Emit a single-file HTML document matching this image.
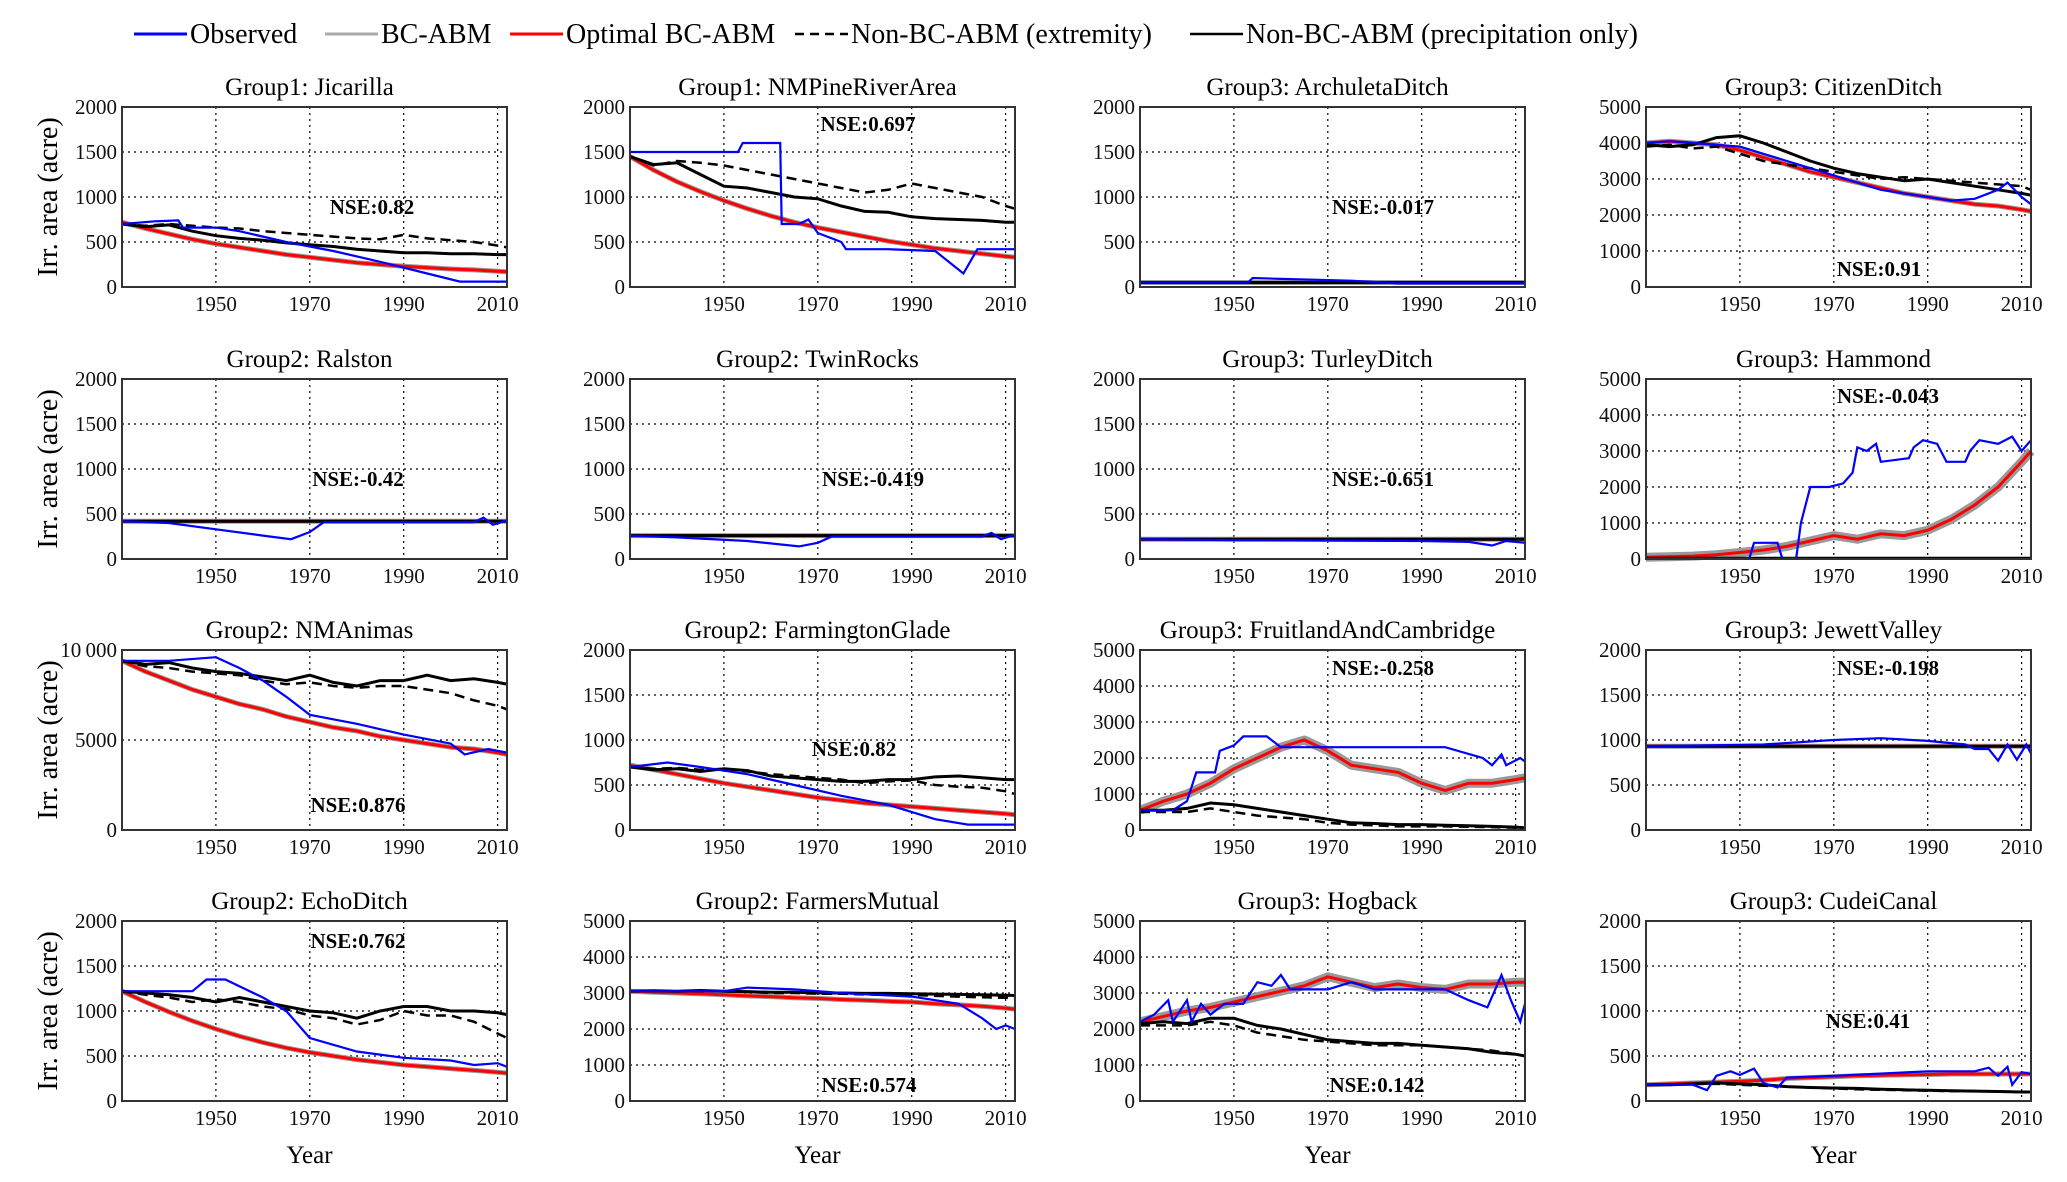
<!DOCTYPE html>
<html><head><meta charset="utf-8"><style>
html,body{margin:0;padding:0;background:#fff;}
svg{display:block;font-family:"Liberation Serif",serif;}
</style></head><body>
<svg id="fig" width="2067" height="1182" viewBox="0 0 2067 1182" xmlns="http://www.w3.org/2000/svg"></svg>
<script>
// ---------- shared data ----------
const years = [1930,1935,1940,1945,1950,1955,1960,1965,1970,1975,1980,1985,1990,1995,2000,2005,2010,2012];
const xTickYears = [1950,1970,1990,2010];
const ticks2000 = [0,500,1000,1500,2000];
const ticks5000 = [0,1000,2000,3000,4000,5000];
const ticks10000 = [0,5000,10000];
const panelTitles = ["Group1: Jicarilla","Group1: NMPineRiverArea","Group3: ArchuletaDitch","Group3: CitizenDitch",
 "Group2: Ralston","Group2: TwinRocks","Group3: TurleyDitch","Group3: Hammond",
 "Group2: NMAnimas","Group2: FarmingtonGlade","Group3: FruitlandAndCambridge","Group3: JewettValley",
 "Group2: EchoDitch","Group2: FarmersMutual","Group3: Hogback","Group3: CudeiCanal"];
const nseLabels = ["NSE:0.82","NSE:0.697","NSE:-0.017","NSE:0.91","NSE:-0.42","NSE:-0.419","NSE:-0.651","NSE:-0.043",
 "NSE:0.876","NSE:0.82","NSE:-0.258","NSE:-0.198","NSE:0.762","NSE:0.574","NSE:0.142","NSE:0.41"];
const yMaxes = [2000,2000,2000,5000, 2000,2000,2000,5000, 10000,2000,5000,2000, 2000,5000,5000,2000];

// observed series (year, value) per panel
const obsYears = [
 [1930,1937,1942,1943,1950,1955,1965,1975,1985,1995,2002,2012],
 [1930,1953,1954,1962,1962.3,1966,1968,1970,1975,1976,1985,1995,2001,2004,2012],
 [1930,1953,1954,1960,1975,1985,2012],
 [1930,1935,1940,1945,1950,1955,1960,1965,1970,1975,1980,1985,1990,1995,2000,2005,2007,2010,2012],
 [1930,1940,1950,1960,1966,1970,1973,2005,2007,2009,2012],
 [1930,1940,1955,1966,1970,1973,2005,2007,2009,2012],
 [1930,1950,1990,2000,2005,2008,2012],
 [1930,1952,1953,1958,1959,1962,1963,1965,1969,1972,1974,1975,1977,1979,1980,1986,1987,1989,1992,1994,1998,1999,2001,2005,2008,2010,2012],
 [1930,1940,1950,1955,1960,1965,1970,1980,1990,2000,2003,2008,2012],
 [1930,1938,1945,1955,1965,1975,1985,1995,2002,2012],
 [1930,1937,1940,1942,1946,1947,1950,1952,1957,1960,1995,2003,2005,2007,2008,2011,2012],
 [1930,1955,1970,1980,1990,1998,2000,2003,2005,2007,2009,2011,2012],
 [1930,1945,1948,1952,1960,1965,1970,1980,1990,2000,2005,2010,2012],
 [1930,1950,1955,1965,1975,1990,2000,2005,2008,2010,2012],
 [1930,1933,1936,1937,1940,1941,1943,1945,1948,1952,1955,1958,1960,1962,1970,1975,1980,1995,2000,2004,2007,2009,2011,2012],
 [1930,1940,1943,1945,1948,1950,1953,1955,1958,1960,1970,1990,2000,2003,2005,2007,2008,2010,2012]
];
const obsValues = [
 [700,730,740,660,660,620,500,400,280,150,60,60],
 [1500,1500,1600,1600,700,700,750,600,500,420,420,400,150,420,420],
 [50,50,100,90,70,40,40],
 [4000,4050,4000,3950,3900,3700,3500,3300,3100,2900,2700,2600,2500,2400,2450,2700,2900,2500,2300],
 [420,400,330,260,220,300,410,410,460,380,430],
 [260,240,200,140,180,250,250,290,220,270],
 [220,210,200,190,150,200,180],
 [20,20,450,450,20,20,1000,2000,2000,2100,2400,3100,3000,3200,2700,2800,3100,3300,3200,2700,2700,3000,3300,3200,3400,3000,3300],
 [9400,9400,9600,9000,8300,7400,6400,5900,5300,4800,4200,4500,4300],
 [700,750,700,620,500,380,280,120,60,60],
 [550,550,800,1600,1600,2200,2350,2600,2600,2300,2300,2000,1800,2100,1800,2000,1900],
 [930,950,1000,1020,990,950,900,900,770,950,780,950,850],
 [1220,1220,1350,1350,1150,1000,700,550,480,450,400,420,380],
 [3050,3050,3150,3100,3000,2900,2700,2300,2000,2100,2000],
 [2200,2400,2800,2200,2800,2200,2700,2400,2700,2700,3300,3200,3500,3100,3100,3300,3100,3100,2800,2600,3500,2800,2200,2700],
 [180,180,120,280,330,290,360,200,150,260,280,330,330,370,280,380,180,320,300]
];
// optimal BC-ABM (red), on shared years grid
const optimalValues = [
 [720,650,590,530,480,440,400,360,330,300,270,250,230,215,200,190,175,170],
 [1450,1300,1170,1060,960,870,790,720,660,610,560,510,470,430,400,370,340,330],
 [50,50,50,50,50,50,50,50,50,50,50,50,50,50,50,50,50,50],
 [4000,4050,4000,3950,3800,3600,3400,3200,3050,2900,2750,2600,2500,2400,2300,2250,2150,2100],
 [420,420,420,420,420,420,420,420,420,420,420,420,420,420,420,420,420,420],
 [260,260,260,260,260,260,260,260,260,260,260,260,260,260,260,260,260,260],
 [220,220,220,220,220,220,220,220,220,220,220,220,220,220,220,220,220,220],
 [50,60,80,120,180,250,350,500,650,550,700,650,800,1100,1500,2000,2700,3000],
 [9400,8800,8300,7800,7400,7000,6700,6300,6000,5700,5500,5200,5000,4800,4600,4500,4300,4200],
 [720,670,620,570,520,480,440,400,360,330,300,280,260,240,220,200,180,170],
 [550,800,1000,1300,1700,2000,2300,2500,2200,1800,1700,1600,1300,1100,1300,1300,1400,1450],
 [930,930,930,930,930,930,930,930,930,930,930,930,930,930,930,930,930,930],
 [1220,1100,990,890,800,720,650,590,540,500,460,430,400,380,360,340,320,310],
 [3050,3020,3000,2980,2950,2920,2900,2870,2850,2820,2800,2770,2750,2700,2670,2630,2580,2550],
 [2200,2350,2500,2600,2750,2900,3050,3200,3450,3300,3150,3250,3150,3100,3250,3250,3300,3300],
 [180,190,200,210,220,230,250,260,270,280,285,290,295,300,300,300,300,300]
];
// Non-BC-ABM (extremity), dashed black
const extremityValues = [
 [700,680,700,680,660,650,620,600,580,560,540,530,580,540,520,500,460,440],
 [1450,1350,1400,1380,1350,1300,1250,1200,1150,1100,1050,1080,1150,1100,1050,1000,900,870],
 [50,50,50,50,50,50,50,50,50,50,50,50,50,50,50,50,50,50],
 [3900,3950,3850,3900,3700,3500,3400,3300,3200,3100,3000,3050,3000,2950,2900,2850,2800,2700],
 [420,420,420,420,420,420,420,420,420,420,420,420,420,420,420,420,420,420],
 [260,260,260,260,260,260,260,260,260,260,260,260,260,260,260,260,260,260],
 [220,220,220,220,220,220,220,220,220,220,220,220,220,220,220,220,220,220],
 [20,20,20,20,20,20,20,20,20,20,20,20,20,20,20,20,20,20],
 [9400,9100,9000,8800,8700,8600,8300,8100,8200,8000,7900,8000,8000,7800,7600,7200,6900,6700],
 [700,680,690,670,680,650,620,600,580,560,520,540,550,500,480,470,430,400],
 [500,500,500,600,500,400,350,300,200,150,130,100,100,100,90,80,60,50],
 [930,930,930,930,930,930,930,930,930,930,930,930,930,930,930,930,930,930],
 [1220,1180,1150,1100,1130,1100,1050,1020,950,920,850,900,1000,950,950,880,750,700],
 [3050,3050,3050,3050,3050,3030,3000,3000,2980,2980,2960,2950,2950,2920,2900,2880,2870,2850],
 [2100,2100,2100,2200,2100,1900,1800,1700,1650,1600,1550,1550,1550,1500,1450,1400,1300,1250],
 [180,180,190,190,180,170,160,150,140,130,125,120,115,110,110,105,100,100]
];
// Non-BC-ABM (precipitation only), solid black
const precipValues = [
 [700,670,690,620,570,540,520,490,470,450,420,400,380,380,370,370,360,360],
 [1450,1360,1380,1250,1120,1100,1050,1000,980,900,840,830,780,760,750,740,720,720],
 [50,50,50,50,50,50,50,50,50,50,50,50,50,50,50,50,50,50],
 [3950,3900,3950,4150,4200,4000,3750,3500,3300,3150,3050,2950,3000,2900,2800,2700,2600,2550],
 [420,420,420,420,420,420,420,420,420,420,420,420,420,420,420,420,420,420],
 [260,260,260,260,260,260,260,260,260,260,260,260,260,260,260,260,260,260],
 [220,220,220,220,220,220,220,220,220,220,220,220,220,220,220,220,220,220],
 [20,20,20,20,20,20,20,20,20,20,20,20,20,20,20,20,20,20],
 [9400,9200,9300,9000,8800,8700,8500,8300,8600,8200,8000,8300,8300,8600,8300,8400,8200,8100],
 [700,670,680,650,680,660,600,580,560,540,540,560,560,590,600,580,560,560],
 [550,550,600,750,700,600,500,400,300,200,180,150,150,130,120,100,80,60],
 [930,930,930,930,930,930,930,930,930,930,930,930,930,930,930,930,930,930],
 [1220,1200,1180,1150,1100,1150,1100,1050,1000,980,920,1000,1050,1050,1000,1000,980,960],
 [3050,3060,3050,3070,3050,3040,3020,3020,3000,3000,2990,2990,2980,2970,2960,2950,2940,2930],
 [2150,2200,2150,2300,2300,2100,2000,1850,1700,1650,1600,1600,1550,1500,1450,1350,1300,1250],
 [180,180,190,200,190,180,160,150,145,140,130,125,120,115,110,105,100,100]
];

// ---------- layout ----------
const colLeft = [122,630,1140,1646];
const rowTop = [107,379,650,921];
const PW = 385, PH = 180;
const X0 = 1930, X1 = 2012;
const nsePos = [[250,99],[238,16],[243,99],[233,161],[236,99],[243,99],[243,99],[242,16],[236,154],[224,98],[243,17],[242,17],[236,19],[239,163],[237,163],[222,99]];
const NS = "http://www.w3.org/2000/svg";
const svg = document.getElementById('fig');
function mk(tag, attrs, parent){ const e=document.createElementNS(NS,tag); for(const k in attrs) e.setAttribute(k,attrs[k]); (parent||svg).appendChild(e); return e; }
function fmt(v){ return v===10000 ? "10\u2009000" : String(v); }

// legend
const legend = mk('g',{});


const legItems = [
 {x:134,label:"Observed",stroke:"#0000ff",w:3,dash:""},
 {x:325,label:"BC-ABM",stroke:"#aaaaaa",w:3,dash:""},
 {x:510,label:"Optimal BC-ABM",stroke:"#ff0000",w:3,dash:""},
 {x:795,label:"Non-BC-ABM (extremity)",stroke:"#000",w:2.5,dash:"9,6"},
 {x:1190,label:"Non-BC-ABM (precipitation only)",stroke:"#000",w:2.5,dash:""}
];
legItems.forEach(it=>{
  const g = mk('g',{},legend);
  
  
  mk('line',{x1:it.x,y1:34,x2:it.x+53,y2:34,stroke:it.stroke,'stroke-width':it.w,'stroke-dasharray':it.dash},g);
  const t = mk('text',{x:it.x+56,y:43,'font-size':28},g);
  t.textContent = it.label;
});

for(let p=0;p<16;p++){
  const r = Math.floor(p/4), c = p%4;
  const L = colLeft[c], T = rowTop[r];
  const yMax = yMaxes[p];
  const yT = yMax===2000 ? ticks2000 : (yMax===5000 ? ticks5000 : ticks10000);
  const sx = v => L + (v - X0)/(X1 - X0)*PW;
  const sy = v => T + PH - v/yMax*PH;
  const g = mk('g',{});
  
  
  mk('rect',{x:L,y:T,width:PW,height:PH,fill:'#fff'},g);
  // grid
  xTickYears.forEach(yr=>{
    mk('line',{x1:sx(yr),y1:T,x2:sx(yr),y2:T+PH,stroke:'#000','stroke-width':1.2,'stroke-dasharray':'2,4'},g);
    const t=mk('text',{x:sx(yr),y:T+PH+24,'font-size':21,'text-anchor':'middle',fill:'#111'},g);
    
    
    t.textContent=yr;
  });
  yT.forEach(v=>{
    if(v>0 && v<yMax) mk('line',{x1:L,y1:sy(v),x2:L+PW,y2:sy(v),stroke:'#000','stroke-width':1.2,'stroke-dasharray':'2,4'},g);
    const t=mk('text',{x:L-5,y:sy(v)+7,'font-size':21,'text-anchor':'end',fill:'#111'},g);
    
    
    t.textContent=fmt(v);
  });
  // series
  const pts = (xs,vs)=>xs.map((x,i)=>sx(x).toFixed(1)+','+sy(vs[i]).toFixed(1)).join(' ');
  const band = mk('polyline',{points:pts(years,optimalValues[p]),fill:'none',stroke:'#999','stroke-width':(p===7||p===10||p===14)?9:5,'stroke-linejoin':'round'},g);
  
  
  const op = mk('polyline',{points:pts(years,optimalValues[p]),fill:'none',stroke:'#ff0000','stroke-width':3},g);
  
  
  const ex = mk('polyline',{points:pts(years,extremityValues[p]),fill:'none',stroke:'#000','stroke-width':2.5,'stroke-dasharray':'10,6'},g);
  
  
  const pr = mk('polyline',{points:pts(years,precipValues[p]),fill:'none',stroke:'#000','stroke-width':3},g);
  
  
  const ob = mk('polyline',{points:pts(obsYears[p],obsValues[p]),fill:'none',stroke:'#0000ff','stroke-width':2.2},g);
  
  
  // frame
  mk('rect',{x:L,y:T,width:PW,height:PH,fill:'none',stroke:'#333','stroke-width':2},g);
  // title
  const tt = mk('text',{x:L+PW/2-5,y:T-12,'font-size':25,'text-anchor':'middle'},g);
  
  
  tt.textContent = panelTitles[p];
  // NSE
  const nt = mk('text',{x:L+nsePos[p][0],y:T+nsePos[p][1]+8,'font-size':21,'font-weight':'bold','text-anchor':'middle'},g);
  
  
  nt.textContent = nseLabels[p];
  if(c===0){
    const yl = mk('text',{x:0,y:0,'font-size':28,'text-anchor':'middle',transform:`translate(57,${T+PH/2}) rotate(-90)`},g);
    
    
    yl.textContent = "Irr. area (acre)";
  }
  if(r===3){
    const xl = mk('text',{x:L+PW/2-5,y:1163,'font-size':25,'text-anchor':'middle'},g);
    
    
    xl.textContent = "Year";
  }
}
</script>
</body></html>
